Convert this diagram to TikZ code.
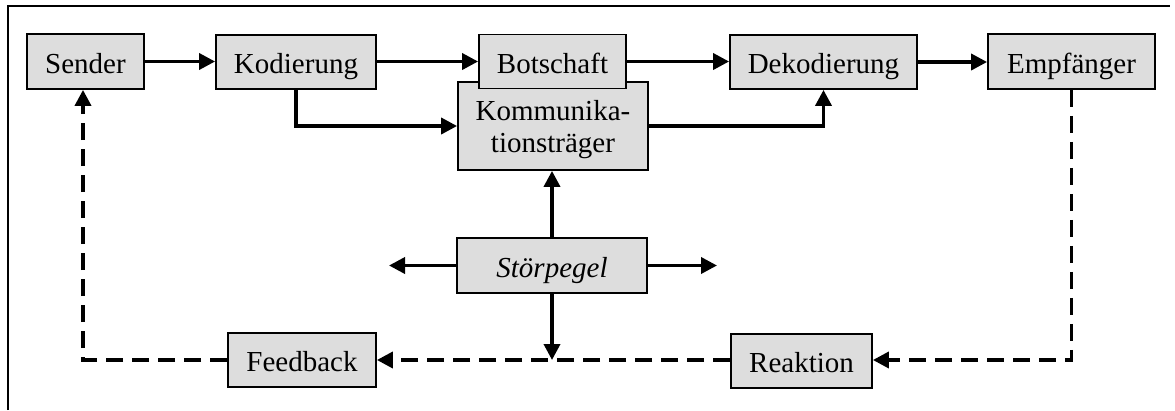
\documentclass[tikz,border=0pt]{standalone}
\usepackage{fontspec}
\setmainfont{Liberation Serif}
\usetikzlibrary{arrows.meta}
\definecolor{boxgray}{RGB}{221,221,221}
\begin{document}
\begin{tikzpicture}[x=1pt,y=-1pt,
  block/.style={draw=black, line width=1.8pt, fill=boxgray, inner sep=0pt,
    align=center, text height=23pt, text depth=0pt,
    font=\fontsize{29}{32}\selectfont},
  flow/.style={line width=3.6pt, -{Triangle[length=16pt,width=16pt]}},
  back/.style={flow, dash pattern=on 17pt off 9pt, line join=miter}]
\useasboundingbox (0,0) rectangle (1175,410);
% open frame: top and left edges
\draw[line width=2.2pt] (8,410) -- (8,6) -- (1170,6);

% upper chain
\node[block, minimum width=117pt, minimum height=55pt] (sender) at (85.5,61.5) {Sender};
\node[block, minimum width=160pt, minimum height=54pt] (kod) at (296,62) {Kodierung};
\node[block, text height={}, text depth=0pt, minimum width=190pt, minimum height=88pt]
  (komm) at (553,126) {Kommunika-\\tionsträger};
\node[block, minimum width=147pt, minimum height=54pt] (bot) at (552.5,61.5) {Botschaft};
\node[block, minimum width=187pt, minimum height=54pt] (dekod) at (823.5,62) {Dekodierung};
\node[block, minimum width=167pt, minimum height=55pt] (empf) at (1071.5,61.5) {Empfänger};

% noise and feedback loop
\node[block, minimum width=190pt, minimum height=55pt] (stoer) at (552,265.5) {\itshape Störpegel};
\node[block, minimum width=148pt, minimum height=54pt] (feed) at (302,360) {Feedback};
\node[block, minimum width=141pt, minimum height=54pt] (reak) at (801.5,361) {Reaktion};

\coordinate (noiseL) at (389,265.5);
\coordinate (noiseR) at (717,265.5);
\coordinate (noiseD) at (552,360);

% solid connectors
\draw[flow] (sender.east) -- (sender.east -| kod.west);
\draw[flow] (kod.east |- bot.west) -- (bot.west);
\draw[flow] (bot.east) -- (bot.east -| dekod.west);
\draw[flow] (dekod.east) -- (dekod.east -| empf.west);
\draw[flow] (kod.south) |- (komm.west);
\draw[flow] (komm.east) -| (dekod.south);
\draw[flow] (stoer.north) -- (stoer.north |- komm.south);
\draw[flow] (stoer.west) -- (noiseL);
\draw[flow] (stoer.east) -- (noiseR);
\draw[flow] (stoer.south) -- (noiseD);

% dashed return path
\draw[back] (empf.south) |- (reak.east |- noiseD);
\draw[back] (reak.west |- noiseD) -- (feed.east);
\draw[back] (feed.west) -| ([xshift=-2.5pt]sender.south);
\end{tikzpicture}
\end{document}
